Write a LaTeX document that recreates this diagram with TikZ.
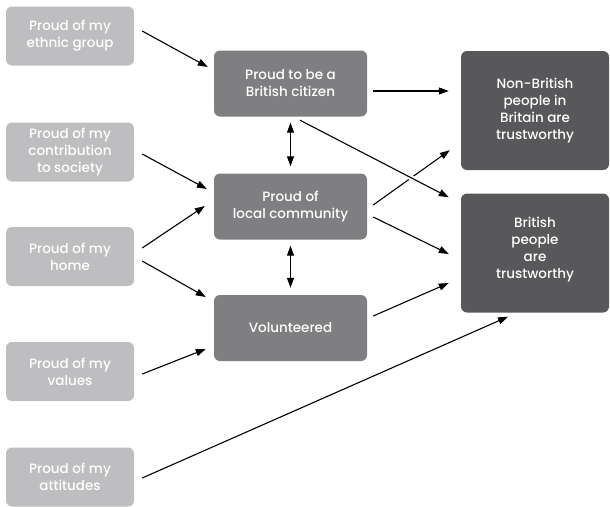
\documentclass[tikz,border=0pt]{standalone}
\usepackage{fontspec}
\setmainfont{Poppins}[UprightFont=* Medium]
\usepackage{tikz}
\usetikzlibrary{arrows.meta}
\definecolor{lightgrey}{HTML}{BEBEC0}
\definecolor{midgrey}{HTML}{7F7F82}
\definecolor{darkgrey}{HTML}{58585B}

\begin{document}
\begin{tikzpicture}[x=1pt,y=-1pt,
  box/.style={rounded corners=6pt,text=white,align=center,inner sep=0pt,
    font=\fontsize{13.5}{17}\selectfont},
  inbox/.style={box,fill=lightgrey,minimum width=128pt,minimum height=59pt},
  midbox/.style={box,fill=midgrey,minimum width=153pt,minimum height=66pt},
  outbox/.style={box,fill=darkgrey,minimum width=148pt,minimum height=119pt},
  link/.style={line width=1.1pt,-{Triangle[length=10pt,width=7pt]}}]
  \useasboundingbox (0,0) rectangle (610,506);
  % left column
  \node[inbox] (ethnic) at (70,36) {Proud of my\\ethnic group};
  \node[inbox] (society) at (70,152) {Proud of my\\contribution\\to society};
  \node[inbox] (home) at (70,256.5) {Proud of my\\home};
  \node[inbox] (values) at (70,371.5) {Proud of my\\values};
  \node[inbox] (attitudes) at (70,477) {Proud of my\\attitudes};
  % middle column
  \node[midbox] (citizen) at (290.5,83.5) {Proud to be a\\British citizen};
  \node[midbox] (community) at (290.5,206.5) {Proud of\\local community};
  \node[midbox] (volunteer) at (290.5,328) {Volunteered};
  % right column
  \node[outbox] (nonbrit) at (535,110.5) {Non-British\\people in\\Britain are\\trustworthy};
  \node[outbox] (brit) at (535,253) {British\\people\\are\\trustworthy\\[-7pt]};
  % arrows
  \draw[link] ([shift={(8,-5)}]ethnic.east) -- ([shift={(-6,-16.5)}]citizen.west);
  \draw[link] ([shift={(8,2)}]society.east) -- ([shift={(-7,-17.5)}]community.west);
  \draw[link] ([shift={(8,-8.5)}]home.east) -- ([shift={(-9,-0.5)}]community.west);
  \draw[link] ([shift={(8,4.5)}]home.east) -- ([shift={(-8,-31)}]volunteer.west);
  \draw[link] ([shift={(8,2.5)}]values.east) -- ([shift={(-8,21)}]volunteer.west);
  \draw[link] ([shift={(8,1)}]attitudes.east) -- ([shift={(-27,4)}]brit.south);
  \draw[link] ([shift={(6,7.5)}]citizen.east) -- ([shift={(-12,-19.5)}]nonbrit.west);
  \draw[link] ([shift={(6,-1.5)}]community.east) -- ([shift={(-11,-20)}]nonbrit.south west);
  \draw[link,preaction={draw=white,line width=5pt,-}]
    ([shift={(9.5,3.5)}]citizen.south) -- ([shift={(-12,4)}]brit.north west);
  \draw[link] ([shift={(6,10.5)}]community.east) -- ([shift={(-12,1)}]brit.west);
  \draw[link] ([shift={(6,-12)}]volunteer.east) -- ([shift={(-12,30)}]brit.west);
  \draw[link,{Triangle[length=10pt,width=7pt]}-{Triangle[length=10pt,width=7pt]},
    shorten <=6pt,shorten >=7pt] (citizen) -- (community);
  \draw[link,{Triangle[length=10pt,width=7pt]}-{Triangle[length=10pt,width=7pt]},
    shorten <=6pt,shorten >=7pt] (community) -- (volunteer);
\end{tikzpicture}
\end{document}
